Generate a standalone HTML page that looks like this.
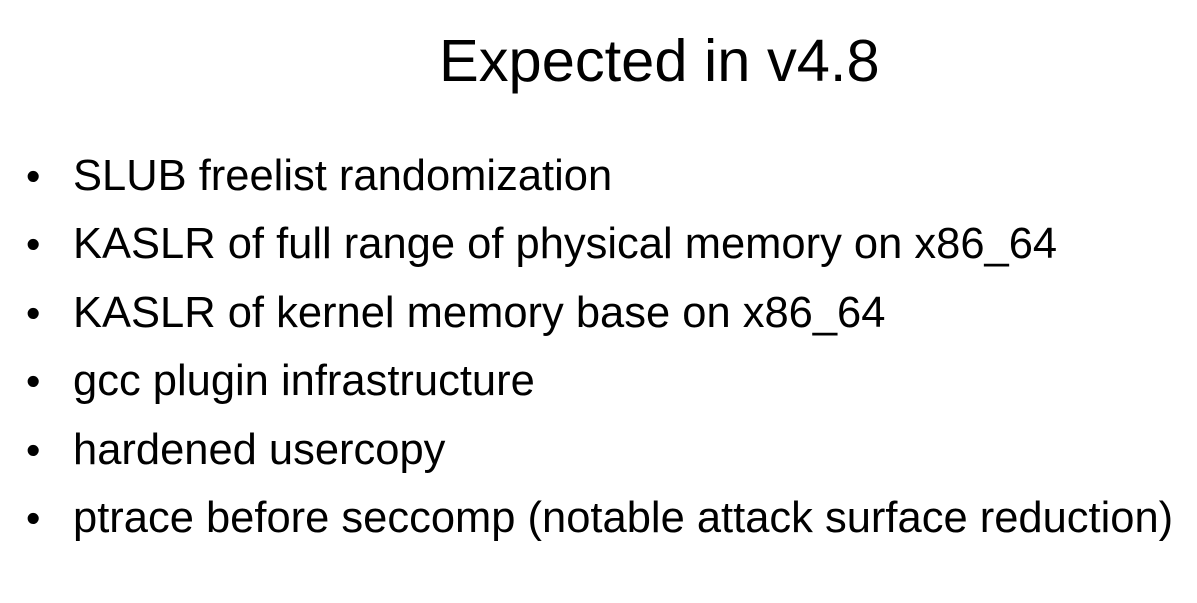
<!DOCTYPE html>
<html><head><meta charset="utf-8"><style>
body{margin:0;width:1197px;height:603px;background:#fff;overflow:hidden;font-family:"Liberation Sans",sans-serif;color:#000;position:relative}
.t{position:absolute;left:439px;top:32px;font-size:59.6px;line-height:58px;white-space:nowrap}
.b{position:absolute;left:73px;font-size:43.5px;line-height:42px;white-space:nowrap}
.b::before{content:"•";position:absolute;left:-47px;font-size:41px}
</style></head><body>
<div class="t">Expected in v4.8</div>
<div class="b" style="top:155px">SLUB freelist randomization</div>
<div class="b" style="top:223px">KASLR of full range of physical memory on x86_64</div>
<div class="b" style="top:292px">KASLR of kernel memory base on x86_64</div>
<div class="b" style="top:360px">gcc plugin infrastructure</div>
<div class="b" style="top:429px">hardened usercopy</div>
<div class="b" style="top:497px">ptrace before seccomp (notable attack surface reduction)</div>
</body></html>
